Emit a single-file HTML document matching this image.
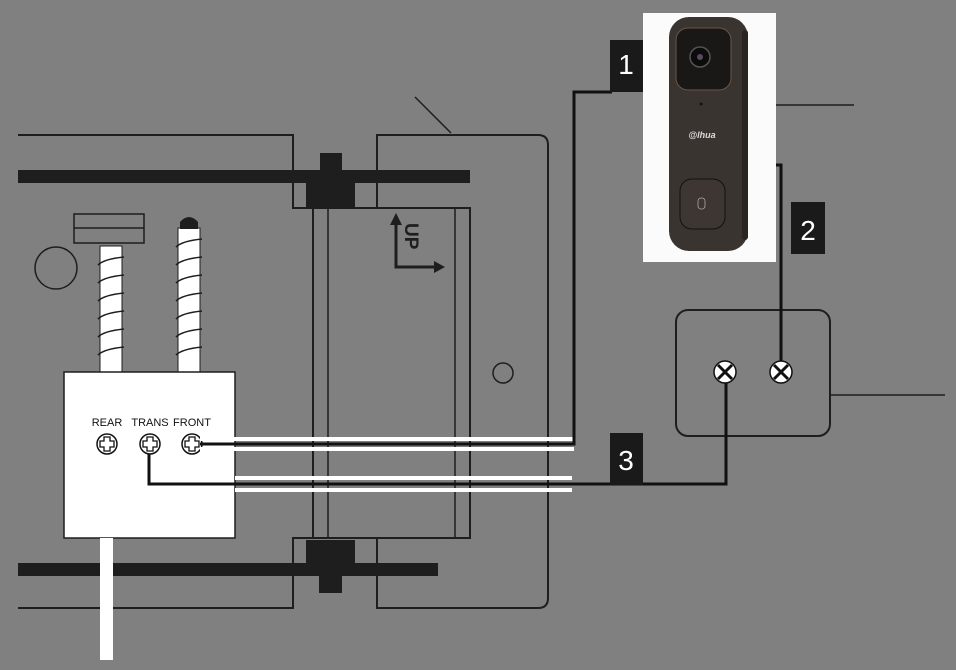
<!DOCTYPE html>
<html><head><meta charset="utf-8"><style>
html,body{margin:0;padding:0;background:#808080;}
svg{display:block}
text{font-family:"Liberation Sans",sans-serif}
</style></head><body>
<svg width="956" height="670" viewBox="0 0 956 670" xmlns="http://www.w3.org/2000/svg">
<rect width="956" height="670" fill="#808080"/>
<g fill="none" stroke="#1e1e1e" stroke-width="2">
<!-- top outline -->
<polyline points="18,135 293,135 293,208 470,208"/>
<path d="M377,208 V135 H538 Q548,135 548,145 V598 Q548,608 538,608 H377 V538 H293 V608 H18"/>
<line x1="415" y1="97" x2="451" y2="133" stroke-width="1.5"/>
<!-- transformer rect -->
<rect x="313" y="208" width="157" height="330"/>
<line x1="328" y1="208" x2="328" y2="538" stroke-width="1.5"/>
<line x1="455" y1="208" x2="455" y2="538" stroke-width="1.5"/>
<circle cx="56" cy="268" r="21" stroke-width="1.5"/>
<circle cx="503" cy="373" r="10" stroke-width="1.5"/>
<!-- right box -->
<rect x="676" y="310" width="154" height="126" rx="12"/>
<line x1="830" y1="395" x2="945" y2="395" stroke-width="1.5"/>
<line x1="776" y1="105" x2="854" y2="105" stroke-width="1.5"/>
</g>
<!-- thick bars -->
<rect x="18" y="170" width="452" height="13" fill="#1e1e1e"/>
<rect x="320" y="153" width="22" height="20" fill="#1e1e1e"/>
<rect x="306" y="170" width="49" height="38" fill="#1e1e1e"/>
<rect x="18" y="563" width="420" height="13" fill="#1e1e1e"/>
<rect x="306" y="540" width="49" height="25" fill="#1e1e1e"/>
<rect x="319" y="574" width="23" height="19" fill="#1e1e1e"/>
<!-- UP arrow -->
<g stroke="#1e1e1e" stroke-width="3" fill="none">
<polyline points="396,222 396,267 438,267"/>
</g>
<polygon points="396,213 390,225 402,225" fill="#1e1e1e"/>
<polygon points="445,267 434,261 434,273" fill="#1e1e1e"/>
<text x="0" y="0" transform="translate(405,223) rotate(90)" font-size="19" font-weight="bold" fill="#1e1e1e">UP</text>
<!-- springs posts -->
<rect x="74" y="214" width="70" height="29" fill="none" stroke="#1e1e1e" stroke-width="1.5"/>
<line x1="74" y1="228" x2="144" y2="228" stroke="#1e1e1e" stroke-width="1.5"/>
<rect x="100" y="246" width="22" height="126" fill="#fff" stroke="#1e1e1e" stroke-width="1"/>
<rect x="178" y="228" width="22" height="144" fill="#fff" stroke="#1e1e1e" stroke-width="1"/>
<path d="M180,229 V222 Q189,212 198,222 V229 Z" fill="#1e1e1e"/>
<g stroke="#1e1e1e" stroke-width="1.6" fill="none">
<path d="M98,265 q6,-6 26,-8 M98,283 q6,-6 26,-8 M98,301 q6,-6 26,-8 M98,319 q6,-6 26,-8 M98,337 q6,-6 26,-8 M98,355 q6,-6 26,-8"/>
<path d="M176,247 q6,-6 26,-8 M176,265 q6,-6 26,-8 M176,283 q6,-6 26,-8 M176,301 q6,-6 26,-8 M176,319 q6,-6 26,-8 M176,337 q6,-6 26,-8 M176,355 q6,-6 26,-8"/>
</g>
<!-- chime box -->
<rect x="64" y="372" width="171" height="166" fill="#fff" stroke="#1e1e1e" stroke-width="1.5"/>
<rect x="100" y="538" width="13" height="122" fill="#fff"/>
<text x="107" y="426" font-size="11" text-anchor="middle" fill="#111">REAR</text>
<text x="150" y="426" font-size="11" text-anchor="middle" fill="#111">TRANS</text>
<text x="192" y="426" font-size="11" text-anchor="middle" fill="#111">FRONT</text>
<g fill="#fff" stroke="#111" stroke-width="1.5">
<ellipse cx="107" cy="444" rx="10" ry="10"/>
<ellipse cx="150" cy="444" rx="10" ry="10"/>
<ellipse cx="192" cy="444" rx="10" ry="10"/>
</g>
<g stroke="#111" stroke-width="1.3" fill="none">
<path d="M104,437h6v4h4v6h-4v4h-6v-4h-4v-6h4z"/>
<path d="M147,437h6v4h4v6h-4v4h-6v-4h-4v-6h4z"/>
<path d="M189,437h6v4h4v6h-4v4h-6v-4h-4v-6h4z"/>
</g>
<!-- wires -->
<rect x="200" y="437" width="374" height="4" fill="#fff"/>
<rect x="200" y="447" width="374" height="4" fill="#fff"/>
<rect x="235" y="476" width="337" height="4" fill="#fff"/>
<rect x="235" y="488" width="337" height="4" fill="#fff"/>
<g stroke="#111" stroke-width="3" fill="none">
<polyline points="200,444 574,444 574,92 612,92"/>
<polyline points="149,454 149,484 726,484 726,383"/>
<polyline points="774,165 781,165 781,362"/>
</g>
<!-- labels -->
<rect x="610" y="40" width="33" height="52" fill="#1a1a1a"/>
<text x="626" y="74" font-size="28" fill="#fff" text-anchor="middle">1</text>
<rect x="791" y="202" width="34" height="52" fill="#1a1a1a"/>
<text x="808" y="240" font-size="28" fill="#fff" text-anchor="middle">2</text>
<rect x="610" y="433" width="33" height="52" fill="#1a1a1a"/>
<text x="626" y="470" font-size="28" fill="#fff" text-anchor="middle">3</text>
<!-- right screws -->
<g fill="#fff" stroke="#111" stroke-width="1.5">
<circle cx="725" cy="372" r="11"/>
<circle cx="781" cy="372" r="11"/>
</g>
<g stroke="#111" stroke-width="3">
<path d="M718,365l14,14M732,365l-14,14"/>
<path d="M774,365l14,14M788,365l-14,14"/>
</g>
<!-- doorbell image -->
<rect x="643" y="13" width="133" height="249" fill="#fbfbfb"/>
<rect x="669" y="17" width="79" height="234" rx="20" fill="#3a3430"/>
<rect x="742" y="30" width="6" height="210" rx="3" fill="#2a2522"/>
<rect x="676" y="28" width="55" height="62" rx="12" fill="#1a1816" stroke="#6a5446" stroke-width="1"/>
<circle cx="700" cy="57" r="10" fill="#0c0c0c" stroke="#555" stroke-width="1.5"/>
<circle cx="700" cy="57" r="3" fill="#5a4a60"/>
<circle cx="701" cy="104" r="1.5" fill="#111"/>
<text x="702" y="138" font-size="9" font-weight="bold" font-style="italic" fill="#ddd" text-anchor="middle">@lhua</text>
<rect x="680" y="179" width="45" height="50" rx="12" fill="#3d3632" stroke="#111" stroke-width="1"/>
<rect x="698" y="198" width="7" height="11" rx="3" fill="none" stroke="#aaa" stroke-width="0.8"/>
</svg>
</body></html>
